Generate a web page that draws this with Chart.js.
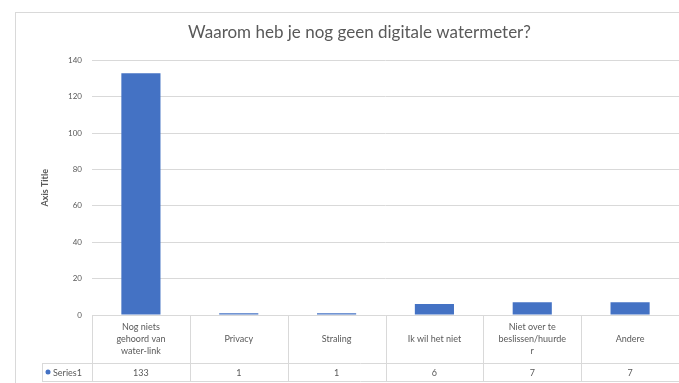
<!DOCTYPE html>
<html>
<head>
<meta charset="utf-8">
<script src="https://cdn.jsdelivr.net/npm/chart.js@4/dist/chart.umd.min.js"></script>
<style>
  html, body { margin: 0; padding: 0; background: #fff; }
  #wrap { position: relative; width: 679px; height: 383px; overflow: hidden; }
  #frame { position: absolute; left: 15px; top: 12px; width: 700px; height: 400px; border: 1px solid #d9d9d9; }
  #chart { position: absolute; left: 0; top: 0; }
</style>
</head>
<body>
<div id="wrap">
  <div id="frame"></div>
  <canvas id="chart" width="679" height="383"></canvas>
</div>
<script>
const chartTitle = "Waarom heb je nog geen digitale watermeter?";
const seriesName = "Series1";
// category labels, already split into the lines shown in the table
const categories = [
  ["Nog niets", "gehoord van", "water-link"],
  ["Privacy"],
  ["Straling"],
  ["Ik wil het niet"],
  ["Niet over te", "beslissen/huurde", "r"],
  ["Andere"]
];
const values = [133, 1, 1, 6, 7, 7];
const yTicks = [0, 20, 40, 60, 80, 100, 120, 140];

const barColor = "#4472C4";
const textColor = "#595959";
const lineColor = "#d9d9d9";
const font = "Lato, 'Open Sans', sans-serif";

// Excel style data table under the plot
const dataTable = {
  id: "dataTable",
  afterDraw(chart) {
    const { ctx, chartArea, scales } = chart;
    const x = scales.x;
    const colW = (chartArea.right - chartArea.left) / values.length;
    const top = chartArea.bottom;
    const mid = top + 48;
    const bottom = mid + 18;
    const legendLeft = 42;

    ctx.save();
    ctx.strokeStyle = lineColor;
    ctx.lineWidth = 1;
    ctx.beginPath();
    ctx.moveTo(chartArea.left, top + 0.5);
    ctx.lineTo(chartArea.right, top + 0.5);
    ctx.moveTo(legendLeft, mid + 0.5);
    ctx.lineTo(chartArea.right, mid + 0.5);
    ctx.moveTo(legendLeft, bottom + 0.5);
    ctx.lineTo(chartArea.right, bottom + 0.5);
    ctx.moveTo(legendLeft + 0.5, mid);
    ctx.lineTo(legendLeft + 0.5, bottom);
    for (let i = 0; i <= values.length; i++) {
      const px = Math.round(chartArea.left + i * colW) + 0.5;
      ctx.moveTo(px, top);
      ctx.lineTo(px, bottom);
    }
    ctx.stroke();

    ctx.fillStyle = textColor;
    ctx.font = "9px " + font;
    ctx.textAlign = "center";
    ctx.textBaseline = "middle";
    categories.forEach((lines, i) => {
      const cx = x.getPixelForValue(i);
      const lh = 12;
      const y0 = (top + mid) / 2 - (lines.length - 1) * lh / 2;
      lines.forEach((t, j) => ctx.fillText(t, cx, y0 + j * lh));
      ctx.fillText(String(values[i]), cx, (mid + bottom) / 2 + 1);
    });

    // legend key
    ctx.fillStyle = barColor;
    ctx.beginPath();
    ctx.arc(legendLeft + 6, (mid + bottom) / 2, 2.5, 0, Math.PI * 2);
    ctx.fill();
    ctx.fillStyle = textColor;
    ctx.textAlign = "left";
    ctx.fillText(seriesName, legendLeft + 11, (mid + bottom) / 2 + 1);
    ctx.restore();
  }
};

new Chart(document.getElementById("chart").getContext("2d"), {
  type: "bar",
  data: {
    labels: categories.map(c => c.join(" ")),
    datasets: [{
      label: seriesName,
      data: values,
      backgroundColor: barColor,
      categoryPercentage: 1,
      barPercentage: 0.4
    }]
  },
  options: {
    responsive: false,
    animation: false,
    layout: { padding: { left: 40, right: 0, top: 14, bottom: 0 } },
    plugins: {
      legend: { display: false },
      tooltip: { enabled: false },
      title: {
        display: true,
        text: chartTitle,
        color: textColor,
        font: { family: font, size: 17, weight: "normal" },
        padding: { top: 8, bottom: 18 }
      }
    },
    scales: {
      x: {
        ticks: { display: false },
        grid: { display: false },
        border: { display: false },
        afterFit(scale) { scale.height = 68; }
      },
      y: {
        min: 0,
        max: 140,
        afterBuildTicks(scale) { scale.ticks = yTicks.map(v => ({ value: v })); },
        ticks: { color: textColor, font: { family: font, size: 8 }, padding: 10 },
        grid: { color: lineColor, drawTicks: false },
        border: { display: false },
        title: {
          display: true,
          text: "Axis Title",
          color: textColor,
          font: { family: font, size: 9, weight: "bold" },
          padding: { top: 0, bottom: 0 }
        },
        afterFit(scale) { scale.width = 52; }
      }
    }
  },
  plugins: [dataTable]
});
</script>
</body>
</html>
